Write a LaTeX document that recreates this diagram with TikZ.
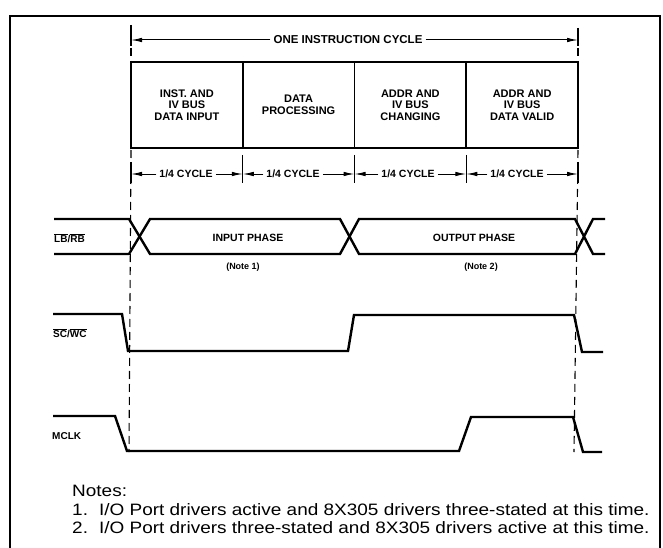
\documentclass[tikz,border=0pt]{standalone}
\usepackage{fontspec}
\setmainfont{Liberation Sans}
\newfontfamily\notefont[FakeStretch=1.15]{Liberation Sans}
\usetikzlibrary{arrows.meta}
\newcommand\sigbar[1]{\ensuremath{\overline{\mbox{#1}}}}
\begin{document}
\begin{tikzpicture}[x=1pt,y=-1pt,
  wave/.style={line width=2.4pt, line join=miter},
  cell/.style={draw, line width=1.8pt, minimum width=111.75pt, minimum height=86pt, inner sep=0pt,
    font=\bfseries\fontsize{11}{11.5}\selectfont, align=center},
  lab/.style={font=\bfseries\fontsize{10.5}{12}\selectfont, inner sep=3pt},
  biglab/.style={font=\bfseries\fontsize{11.5}{12}\selectfont, inner sep=3pt},
  dimarrow/.style={line width=1pt, -{Latex[length=11pt,width=4.5pt]}},
  guide/.style={line width=1.1pt, dash pattern=on 8pt off 5pt},
  tickline/.style={line width=1.1pt},
  sig/.style={font=\bfseries\fontsize{10}{12}\selectfont, anchor=west, inner sep=0pt},
  phase/.style={font=\bfseries\fontsize{10.5}{12}\selectfont, inner sep=0pt},
  notelab/.style={font=\bfseries\fontsize{9}{11}\selectfont, inner sep=0pt},
  note/.style={font=\notefont\fontsize{16.5}{19}\selectfont, anchor=base west, inner sep=0pt}]
\useasboundingbox (0,0) rectangle (663,548);
% frame
\draw[line width=1.5pt] (10,548) -- (10,16) -- (660,16) -- (660,548);
% instruction cycle boxes
\node[cell] (c1) at (186.875,105) {INST. AND\\IV BUS\\DATA INPUT};
\node[cell] (c2) at (298.625,105) {DATA\\PROCESSING};
\node[cell] (c3) at (410.375,105) {ADDR AND\\IV BUS\\CHANGING};
\node[cell] (c4) at (522.125,105) {ADDR AND\\IV BUS\\DATA VALID};
% one instruction cycle
\coordinate (tl) at (131,40);
\coordinate (tr) at (578,40);
\node[biglab] (oic) at (348,40) {ONE INSTRUCTION CYCLE};
\draw[dimarrow] (oic.west) -- (tl);
\draw[dimarrow] (oic.east) -- (tr);
\draw[tickline] (131,25) -- (131,46);
\draw[tickline] (578,28) -- (578,46);
\draw[guide] (131,48) -- (131,62);
\draw[guide] (578,48) -- (578,62);
% guide lines below the boxes
\draw[guide] (131,150) -- (129,452);
\draw[guide] (578,150) -- (574,452);
% quarter cycles
\coordinate (b0) at (131,174);
\coordinate (b1) at (242.75,174);
\coordinate (b2) at (354.5,174);
\coordinate (b3) at (466.25,174);
\coordinate (b4) at (578,174);
\foreach \x in {242.75,354.5,466.25} \draw[tickline] (\x,155) -- (\x,183);
\foreach \x in {131,578} \draw[tickline] (\x,162) -- (\x,183);
\node[lab] (q1) at (186,174) {1/4 CYCLE};
\node[lab] (q2) at (293,174) {1/4 CYCLE};
\node[lab] (q3) at (408,174) {1/4 CYCLE};
\node[lab] (q4) at (517,174) {1/4 CYCLE};
\draw[dimarrow] (q1.west) -- (b0);
\draw[dimarrow] (q1.east) -- (b1);
\draw[dimarrow] (q2.west) -- (b1);
\draw[dimarrow] (q2.east) -- (b2);
\draw[dimarrow] (q3.west) -- (b2);
\draw[dimarrow] (q3.east) -- (b3);
\draw[dimarrow] (q4.west) -- (b3);
\draw[dimarrow] (q4.east) -- (b4);
% LB/RB
\node[sig] (lbrb) at (54,238) {\sigbar{LB}/\sigbar{RB}};
\draw[wave] (54,219) -- (129,219) -- (150,254) -- (340,254) -- (359,219) -- (575,219) -- (593,254) -- (605,254);
\draw[wave] (54,254) -- (129,254) -- (150,219) -- (340,219) -- (359,254) -- (575,254) -- (593,219) -- (605,219);
\node[phase] (inph) at (248,238) {INPUT PHASE};
\node[phase] (outph) at (474,238) {OUTPUT PHASE};
\node[notelab] (n1) at (243,267) {(Note 1)};
\node[notelab] (n2) at (481,267) {(Note 2)};
% SC/WC
\node[sig] (scwc) at (53,333) {\sigbar{SC}/\sigbar{WC}};
\draw[wave] (53,314) -- (122,314) -- (128,351) -- (348,351) -- (354,315) -- (574,315) -- (582,352) -- (603,352);
% MCLK
\node[sig] (mclk) at (52,436) {MCLK};
\draw[wave] (53,416) -- (115,416) -- (127,451) -- (459,451) -- (471,417) -- (573,417) -- (583,452) -- (602,452);
% notes
\node[note] (nt0) at (72,496) {Notes:};
\node[note] (nt1) at (72,515) {1.\hspace{4pt} I/O Port drivers active and 8X305 drivers three-stated at this time.};
\node[note] (nt2) at (72,533) {2.\hspace{4pt} I/O Port drivers three-stated and 8X305 drivers active at this time.};
\end{tikzpicture}
\end{document}
